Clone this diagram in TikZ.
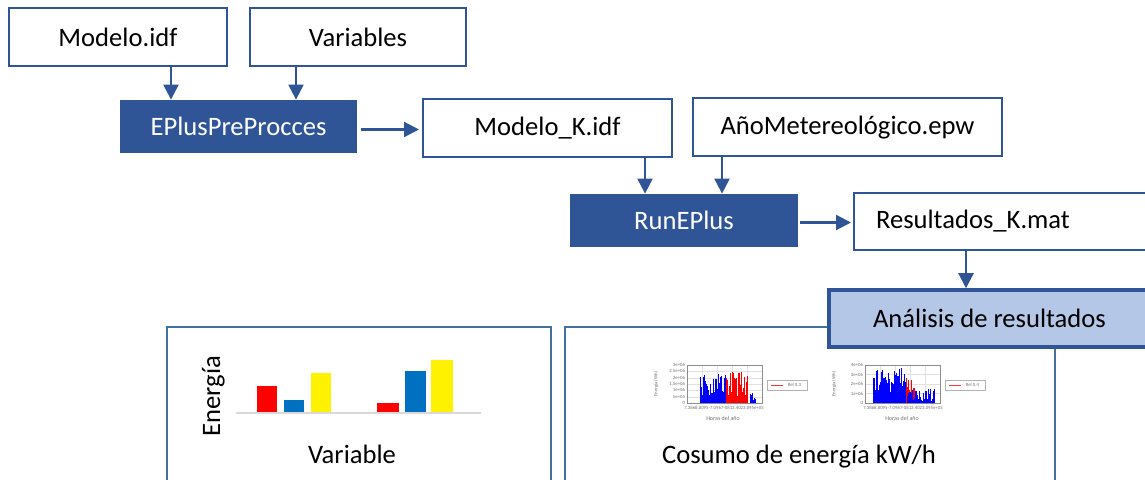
\documentclass[tikz,border=0pt]{standalone}
\usepackage{fontspec}
\setmainfont{Carlito}
\usetikzlibrary{positioning,arrows.meta}
\definecolor{dblue}{HTML}{2F5597}
\definecolor{pblue}{HTML}{41719C}
\definecolor{lblue}{HTML}{B4C7E7}
\definecolor{xblue}{HTML}{0070C0}
\tikzset{
  box/.style={draw=dblue, line width=1pt, fill=white, inner sep=0pt, minimum height=29pt},
  proc/.style={fill=dblue, text=white, inner sep=0pt, minimum height=26.5pt},
  panel/.style={draw=pblue, line width=1.2pt},
  flow/.style={draw=dblue, line width=1.1pt, -{Triangle[length=7.5pt,width=7.5pt]}},
  tiny/.style={font=\fontsize{2.4}{2.8}\selectfont, text=black!55, inner sep=0.3pt},
  grid/.style={draw=black!12, line width=0.15pt}
}

\begin{document}
\begin{tikzpicture}[x=0.5pt,y=-0.5pt,font=\fontsize{13.3}{16}\selectfont]

\clip (0,0) rectangle (1145,480);
\fill[white] (0,0) rectangle (1145,480);

% boxes of the flow
\node[box, minimum width=109pt] (mod) at (118,37) {Modelo.idf};
\node[box, minimum width=108pt] (var) at (358,37) {Variables};
\node[proc, minimum width=118.5pt] (pre) at (238.5,126.5) {EPlusPreProcces};
\node[box, minimum width=124.5pt] (modk) at (547.5,128) {Modelo\_K.idf};
\node[box, minimum width=154.5pt] (ano) at (847.5,127.5) {AñoMetereológico.epw};
\node[proc, minimum width=114pt] (run) at (684,220.5) {RunEPlus};
\node[box, minimum height=28.5pt, text width=126pt, inner xsep=11pt, align=left]
  (res) at (1002,221.5) {Resultados\_K.mat};

\draw[flow] ([xshift=26.5pt]mod.south) -- ([xshift=26.5pt]mod.south |- pre.north);
\draw[flow] ([xshift=-31pt]var.south) -- ([xshift=-31pt]var.south |- pre.north);
\draw[flow, shorten <=2pt, shorten >=1.5pt] ([yshift=-1.5pt]pre.east) -- ([yshift=-1.5pt]pre.east -| modk.west);
\draw[flow] ([xshift=48.75pt]modk.south) -- ([xshift=48.75pt]modk.south |- run.north);
\draw[flow] ([xshift=-62.75pt]ano.south) -- ([xshift=-62.75pt]ano.south |- run.north);
\draw[flow, shorten <=1pt, shorten >=1pt] ([yshift=-1pt]run.east) -- ([yshift=-1pt]run.east -| res.west);

% panels
\draw[panel] (167,500) -- (167,327) -- (551,327) -- (551,500);
\draw[panel] (565,500) -- (565,327) -- (1055,327) -- (1055,500);

\node[draw=dblue, line width=1.75pt, fill=lblue, minimum width=160.5pt, minimum height=28.5pt, inner sep=0pt]
  (ana) at (989.5,318.5) {Análisis de resultados};
\draw[flow] ([xshift=-18pt]res.south) -- ([xshift=-18pt]res.south |- ana.north);

% bar chart
\draw[black!15, line width=0.8pt] (236,413) -- (481,413);
\foreach \xa/\xb/\yt/\c in {257/277/386/red, 284/304/400/xblue, 311/331/373/yellow,
                            377/399/403/red, 405/426/371/xblue, 431/453/360/yellow}
  \fill[\c] (\xa,412) rectangle (\xb,\yt);
\node[rotate=90, anchor=base] (ener) at (220,396) {Energía};
\node[anchor=base] (varl) at (352,463) {Variable};
\node[anchor=base] (cons) at (799,463) {Cosumo de energía kW/h};

% first small plot
\foreach \gx in {702,717,732,747} \draw[grid] (\gx,365) -- (\gx,403);
\foreach \gy in {1,...,5} \draw[grid] (687,403-\gy*6.33) -- (762,403-\gy*6.33);
\pgfmathsetseed{7}
\foreach \i in {0,...,44} {
  \pgfmathsetmacro\hh{5+24*rnd}
  \draw[blue, line width=0.4pt] (700+\i*0.6,403) -- ++(0,-\hh);
}
\foreach \i in {0,...,36} {
  \pgfmathsetmacro\hh{6+26*rnd}
  \draw[red, line width=0.4pt] (726+\i*0.6,403) -- ++(0,-\hh);
}
\foreach \i in {0,...,8} {
  \pgfmathsetmacro\hh{2+8*rnd}
  \draw[blue, line width=0.4pt] (750+\i*0.7,403) -- ++(0,-\hh);
}
\draw[black!45, line width=0.2pt] (687,365) rectangle (762,403);
\foreach \v [count=\k from 0] in {0,5e+05,1e+06,1.5e+06,2e+06,2.5e+06,3e+06}
  \node[tiny, anchor=east] (ta-\k) at (686,403-\k*6.33) {\v};
\node[tiny, rotate=90] (ya) at (656,384) {Energía (Wh)};
\node[tiny] (xa) at (724,408) {7.3868.8095-7.0967-0813.4023.095e+05};
\node[tiny, font=\fontsize{3}{3.5}\selectfont] (ha) at (723,418) {Horas del año};
\node[draw=black!30, line width=0.2pt, minimum width=20pt, minimum height=5pt, inner sep=0pt] (la) at (787,385) {};
\draw[red!80, line width=0.4pt] ([xshift=2pt]la.west) -- ([xshift=8pt]la.west);
\node[tiny, anchor=west] (ra) at ([xshift=10pt]la.west) {Rel 0.3};

% second small plot
\foreach \gx in {880,895,910,925} \draw[grid] (\gx,365) -- (\gx,403);
\foreach \gy in {1,...,3} \draw[grid] (865,403-\gy*9.5) -- (940,403-\gy*9.5);
\foreach \i in {0,...,36} {
  \pgfmathsetmacro\hh{6+26*rnd}
  \draw[red, line width=0.4pt] (893+\i*0.6,403) -- ++(0,-\hh*0.8);
}
\foreach \i in {0,...,54} {
  \pgfmathsetmacro\hh{10+26*rnd}
  \draw[blue, line width=0.4pt] (873+\i*0.6,403) -- ++(0,-\hh);
}
\foreach \i in {0,...,30} {
  \pgfmathsetmacro\hh{2+12*rnd}
  \draw[blue, line width=0.4pt] (907+\i*0.9,403) -- ++(0,-\hh);
}
\draw[black!45, line width=0.2pt] (865,365) rectangle (940,403);
\foreach \v [count=\k from 0] in {0,1e+06,2e+06,3e+06,4e+06}
  \node[tiny, anchor=east] (tb-\k) at (864,403-\k*9.5) {\v};
\node[tiny, rotate=90] (yb) at (834,384) {Energía (Wh)};
\node[tiny] (xb) at (903,408) {7.3868.8095-7.0967-0813.4023.095e+05};
\node[tiny, font=\fontsize{3}{3.5}\selectfont] (hb) at (902,418) {Horas del año};
\node[draw=black!30, line width=0.2pt, minimum width=20pt, minimum height=5pt, inner sep=0pt] (lb) at (965,385) {};
\draw[red!80, line width=0.4pt] ([xshift=2pt]lb.west) -- ([xshift=8pt]lb.west);
\node[tiny, anchor=west] (rb) at ([xshift=10pt]lb.west) {Rel 0.4};

\end{tikzpicture}
\end{document}
